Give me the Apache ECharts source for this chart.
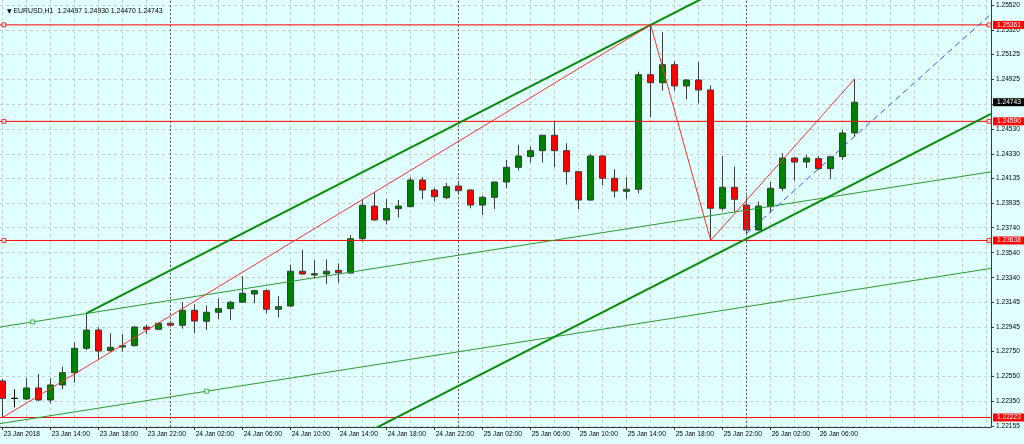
<!DOCTYPE html>
<html><head><meta charset="utf-8">
<script src="https://cdn.jsdelivr.net/npm/echarts@6/dist/echarts.min.js"></script>
<style>html,body{margin:0;padding:0;background:#e0ffff}#c{width:1024px;height:444px}</style>
</head><body><div id="c"></div>
<script>
const symbolName = 'EURUSD,H1';
// bar index 0 = 23 Jan 2018 10:00, hourly bars
const opens  = [1.22515,1.22376,1.22371,1.22459,1.22363,1.22483,1.22581,1.22776,1.22922,1.22757,
                1.22786,1.22797,1.22946,1.22928,1.22976,1.22960,1.23080,1.22992,1.23064,1.23093,
                1.23144,1.23210,1.23237,1.23088,1.23114,1.23392,1.23362,1.23370,1.23399,1.23378,
                1.23652,1.23913,1.23802,1.23892,1.23908,1.24121,1.24041,1.23980,1.24073,1.24041,
                1.23921,1.23983,1.24105,1.24223,1.24308,1.24356,1.24479,1.24356,1.24188,1.23961,
                1.24313,1.24135,1.24031,1.24047,1.24963,1.24899,1.25043,1.24873,1.24921,1.24841,
                1.23895,1.24063,1.23921,1.23722,1.23908,1.24055,1.24297,1.24265,1.24292,1.24212,
                1.24308,1.24497];
const highs  = [1.22531,1.22448,1.22541,1.22571,1.22536,1.22629,1.22824,1.23058,1.22944,1.22896,
                1.22890,1.22954,1.22965,1.22981,1.22982,1.23144,1.23128,1.23117,1.23176,1.23156,
                1.23352,1.23245,1.23248,1.23194,1.23444,1.23562,1.23482,1.23487,1.23455,1.23682,
                1.23961,1.24020,1.23969,1.23961,1.24143,1.24143,1.24057,1.24097,1.24100,1.24047,
                1.23996,1.24109,1.24281,1.24401,1.24387,1.24483,1.24595,1.24415,1.24193,1.24329,
                1.24319,1.24207,1.24143,1.24987,1.25361,1.25304,1.25070,1.24925,1.25064,1.24878,
                1.24313,1.24228,1.23996,1.23951,1.24105,1.24335,1.24301,1.24324,1.24313,1.24313,
                1.24521,1.24930];
const lows   = [1.22223,1.22304,1.22363,1.22355,1.22336,1.22448,1.22501,1.22762,1.22690,1.22749,
                1.22749,1.22790,1.22888,1.22922,1.22954,1.22933,1.22896,1.22922,1.23008,1.23002,
                1.23141,1.23136,1.23056,1.23024,1.23109,1.23364,1.23332,1.23290,1.23300,1.23370,
                1.23628,1.23796,1.23767,1.23820,1.23903,1.23969,1.23948,1.23969,1.24001,1.23895,
                1.23842,1.23890,1.24055,1.24196,1.24260,1.24260,1.24223,1.24084,1.23887,1.23957,
                1.24079,1.23983,1.23972,1.24015,1.24622,1.24835,1.24835,1.24766,1.24734,1.23638,
                1.23876,1.23868,1.23695,1.23714,1.23860,1.24031,1.24116,1.24217,1.24201,1.24127,
                1.24281,1.24470];
const closes = [1.22376,1.22376,1.22459,1.22363,1.22483,1.22581,1.22776,1.22922,1.22754,1.22784,
                1.22797,1.22946,1.22928,1.22976,1.22960,1.23080,1.22994,1.23064,1.23093,1.23144,
                1.23216,1.23237,1.23088,1.23109,1.23392,1.23370,1.23372,1.23392,1.23380,1.23652,
                1.23919,1.23802,1.23892,1.23913,1.24121,1.24041,1.23988,1.24068,1.24036,1.23921,
                1.23983,1.24105,1.24223,1.24313,1.24356,1.24479,1.24356,1.24188,1.23961,1.24313,
                1.24135,1.24033,1.24047,1.24963,1.24899,1.25043,1.24873,1.24921,1.24841,1.23895,
                1.24063,1.23967,1.23722,1.23913,1.24055,1.24297,1.24265,1.24297,1.24212,1.24308,
                1.24497,1.24743];

const xTickIndex  = [0,4,8,12,16,20,24,28,32,36,40,44,48,52,56,60,64,68];
const xTickLabels = ['23 Jan 2018','23 Jan 14:00','23 Jan 18:00','23 Jan 22:00','24 Jan 02:00','24 Jan 06:00',
                     '24 Jan 10:00','24 Jan 14:00','24 Jan 18:00','24 Jan 22:00','25 Jan 02:00','25 Jan 06:00',
                     '25 Jan 10:00','25 Jan 14:00','25 Jan 18:00','25 Jan 22:00','26 Jan 02:00','26 Jan 06:00'];
const xGridIndex  = [0,2,4,6,8,10,12,14,16,18,20,22,24,26,28,30,32,34,36,38,40,42,44,46,48,50,52,54,56,58,60,62,64,66,68,70,72,74,76,78,80,82];
const daySeparators = [14,38,62];

const yTickValues  = [1.25520,1.25320,1.25125,1.24925,1.24728,1.24530,1.24330,1.24135,1.23935,
                      1.23740,1.23540,1.23340,1.23145,1.22945,1.22750,1.22550,1.22350,1.22155];
const yLabelValues = [1.25520,1.25320,1.25125,1.24925,1.24530,1.24330,1.24135,1.23935,
                      1.23740,1.23540,1.23340,1.23145,1.22945,1.22750,1.22550,1.22350,1.22155];

const levelLines = [1.25361, 1.24590, 1.23638, 1.22223];
const levelAnchorsLeft  = [[0.1,1.25361],[0.1,1.24590],[0.1,1.23638]];
const levelAnchorsRight = [[82.2,1.25361],[82.2,1.24590],[82.2,1.23638]];

const upperChannel = [[7,1.23058],[54,1.25361]];
const lowerChannelAnchor = [62,1.23653];
const thinUpper = [[2.5,1.22987],[71,1.24016]];
const thinLower = [[17,1.22433],[71,1.23245]];
const zigzag = [[0,1.22223],[54,1.25361],[59,1.23638],[71,1.24930]];
const blueRay = [[62,1.23695],[71,1.24470]];

const XMIN = -0.225, XMAX = 82.36, YMIN = 1.22147, YMAX = 1.25560;
const BG = '#e0ffff';
const FONT = 'Liberation Sans, Arial, sans-serif';
const FS = 6.6;

function slopeOf(a, b) { return (b[1] - a[1]) / (b[0] - a[0]); }
function seg(p, k, x0, x1) { return [[x0, p[1] + k * (x0 - p[0])], [x1, p[1] + k * (x1 - p[0])]]; }

const candleData = opens.map((o, i) => [i, o, closes[i], lows[i], highs[i]]);
const last = opens.length - 1;
const titleText = '{t|▼} ' + symbolName + '  ' + [opens[last], highs[last], lows[last], closes[last]].map(v => v.toFixed(5)).join(' ');

const kUp = slopeOf(upperChannel[0], upperChannel[1]);
const kThin = slopeOf(thinUpper[0], thinUpper[1]);
const kBlue = slopeOf(blueRay[0], blueRay[1]);

function trend(name, data, color, width, type, z) {
  return { type: 'line', name, data, showSymbol: false, symbol: 'none', silent: true, clip: true, z,
           lineStyle: { color, width, type }, emphasis: { disabled: true }, animation: false };
}

const priceLabel = (bg) => ({ show: true, position: 'end', distance: 2, formatter: p => Number(p.value).toFixed(5),
  color: '#ffffff', backgroundColor: bg, padding: [1, 4, 0, 4], fontSize: FS, fontFamily: FONT, lineHeight: 7, opacity: 1 });

const levelSeries = levelLines.map((v, i) => trend('level ' + i, [[XMIN, v], [XMAX, v]], '#ff0000', 1, 'solid', 6));

const chart = echarts.init(document.getElementById('c'), null, { renderer: 'canvas' });
chart.setOption({
  backgroundColor: BG,
  animation: false,
  title: {
    text: titleText, left: 2, top: 3,
    textStyle: { fontSize: 6.9, fontWeight: 'normal', color: '#000', fontFamily: FONT,
      rich: { t: { fontSize: 6, fontFamily: 'DejaVu Sans', color: '#000' } } }
  },
  grid: { left: 0, right: 33, top: 0, bottom: 17, containLabel: false },
  xAxis: [{
    type: 'value', min: XMIN, max: XMAX,
    axisLine: { show: true, lineStyle: { color: '#3a3a3a', width: 1 } },
    axisTick: { show: true, length: 3, customValues: xTickIndex, lineStyle: { color: '#3a3a3a' } },
    axisLabel: { customValues: xTickIndex, align: 'left', margin: 4, padding: [0,0,0,1],
      fontSize: FS, fontFamily: FONT, color: '#000',
      formatter: v => xTickLabels[xTickIndex.indexOf(Math.round(v))] || '' },
    splitLine: { show: false }
  }, {
    type: 'value', min: XMIN, max: XMAX, position: 'bottom',
    axisLine: { show: false }, axisLabel: { show: false },
    axisTick: { show: false, customValues: xGridIndex },
    splitLine: { show: true, lineStyle: { color: '#c4cccc', type: [3, 3], width: 1 } }
  }],
  yAxis: {
    type: 'value', position: 'right', min: YMIN, max: YMAX, scale: true,
    axisLine: { show: true, onZero: false, lineStyle: { color: '#3a3a3a', width: 1 } },
    axisTick: { show: true, length: 3, customValues: yTickValues, lineStyle: { color: '#3a3a3a' } },
    axisLabel: { customValues: yLabelValues, margin: 5, fontSize: FS, fontFamily: FONT, color: '#000',
      formatter: v => v.toFixed(5) },
    splitLine: { show: true, lineStyle: { color: '#c4cccc', type: [3, 3], width: 1 } }
  },
  series: [
    {
      type: 'line', data: [], silent: true, z: 1,
      markLine: {
        silent: true, symbol: ['none', 'none'], animation: false, precision: 5,
        label: { show: false },
        lineStyle: { color: '#5a5a5a', type: [2, 2], width: 1 },
        data: daySeparators.map(d => ({ xAxis: d }))
      }
    },
    {
      type: 'candlestick', name: symbolName, data: candleData, barWidth: 7, z: 3,
      encode: { x: 0, y: [1, 2, 3, 4] },
      itemStyle: { color: '#008000', color0: '#ff0000', borderColor: '#3c3c3c', borderColor0: '#3c3c3c',
                   borderColorDoji: '#000000', borderWidth: 1 },
      emphasis: { disabled: true }, silent: true, animation: false
    },
    ...levelSeries,
    {
      type: 'line', name: 'price labels', data: [], silent: true, z: 9,
      markLine: {
        silent: true, symbol: ['none', 'none'], animation: false, precision: 5,
        emphasis: { disabled: true },
        lineStyle: { color: 'rgba(0,0,0,0)', width: 1 },
        data: levelLines.map(v => ({ yAxis: v, label: priceLabel('#ff0000') }))
          .concat([{ yAxis: closes[last], label: priceLabel('#000000') }])
      }
    },
    trend('thin upper', seg(thinUpper[0], kThin, XMIN, XMAX), '#2e9a2e', 1, 'solid', 6),
    trend('thin lower', seg(thinLower[0], kThin, XMIN, XMAX), '#2e9a2e', 1, 'solid', 6),
    trend('upper channel', seg(upperChannel[0], kUp, upperChannel[0][0], XMAX), '#0a8a0a', 2, 'solid', 7),
    trend('lower channel', seg(lowerChannelAnchor, kUp, XMIN, XMAX), '#0a8a0a', 2, 'solid', 7),
    trend('zigzag', zigzag, '#ff3030', 1, 'solid', 7),
    trend('blue ray', seg(blueRay[0], kBlue, blueRay[0][0], XMAX), '#3a50ff', 1, [6, 4], 7),
    {
      type: 'scatter', data: levelAnchorsLeft.concat(levelAnchorsRight), symbol: 'rect', symbolSize: 4,
      itemStyle: { color: BG, borderColor: '#ff0000', borderWidth: 1 }, silent: true, z: 8, clip: false
    },
    {
      type: 'scatter', data: [thinUpper[0], thinLower[0]], symbol: 'rect', symbolSize: 4,
      itemStyle: { color: BG, borderColor: '#2e9a2e', borderWidth: 1 }, silent: true, z: 8
    }
  ]
});
</script></body></html>
